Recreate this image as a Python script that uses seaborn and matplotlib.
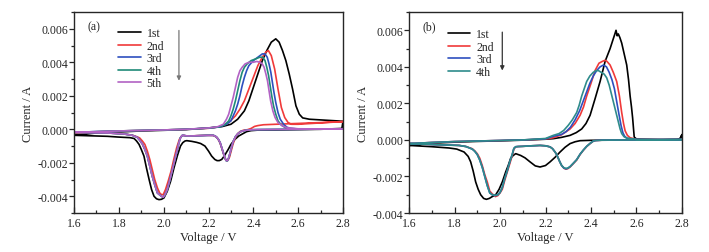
import numpy as np
import pandas as pd
import seaborn as sns
import matplotlib
matplotlib.use("Agg")
import matplotlib.pyplot as plt
from matplotlib.ticker import MultipleLocator, FormatStrFormatter

# ---------------- panel (a): cycles 1-5 ----------------
a1_v = [1.6, 1.7, 1.8, 1.9, 2.0, 2.1, 2.2, 2.26, 2.30, 2.33, 2.36, 2.38, 2.40, 2.42, 2.44, 2.46, 2.48, 2.50,
        2.515, 2.53, 2.545, 2.56, 2.575, 2.59, 2.605, 2.62, 2.65, 2.7, 2.8,
        2.795, 2.7, 2.6, 2.5, 2.42, 2.39, 2.37, 2.355, 2.335, 2.318, 2.30, 2.288, 2.27, 2.259, 2.248, 2.238,
        2.228, 2.214, 2.2, 2.184, 2.165, 2.147, 2.125, 2.103, 2.095, 2.085, 2.075, 2.061, 2.046, 2.031,
        2.016, 2.001, 1.99, 1.979, 1.968, 1.957, 1.946, 1.935, 1.923, 1.912, 1.9, 1.89, 1.879, 1.868,
        1.85, 1.82, 1.793, 1.75, 1.7, 1.6]
a1_i = [-0.00036, -0.00022, -0.00016, -0.0001, -0.00006, -0.00002, 0.00008, 0.00016, 0.0003, 0.0006, 0.0011,
        0.0017, 0.0025, 0.0033, 0.0041, 0.0047, 0.0052, 0.0054, 0.0052, 0.0047, 0.0041, 0.0033, 0.0024,
        0.0014, 0.0009, 0.00068, 0.0006, 0.00056, 0.00048,
        0.00005, 0.0, -0.00002, -0.00004, -0.00005, -0.00008, -0.00014, -0.00025, -0.0004, -0.0006, -0.0009,
        -0.0012, -0.0016, -0.0018, -0.00187, -0.00187, -0.0018, -0.0016, -0.0013, -0.001, -0.00085,
        -0.00078, -0.00072, -0.00068, -0.0007, -0.0008, -0.001, -0.00158, -0.0023, -0.0031, -0.0037,
        -0.0041, -0.00418, -0.0042, -0.00415, -0.004, -0.0036, -0.003, -0.0023, -0.0016, -0.0012, -0.0009,
        -0.0007, -0.00055, -0.0005, -0.00048, -0.00046, -0.00042, -0.0004, -0.00036]

a2_v = [1.6, 1.7, 1.8, 1.9, 2.0, 2.1, 2.2, 2.25, 2.29, 2.32, 2.34, 2.36, 2.38, 2.40, 2.42, 2.44, 2.455, 2.467,
        2.48, 2.495, 2.51, 2.525, 2.54, 2.555, 2.57, 2.6, 2.7, 2.8,
        2.7, 2.6, 2.5, 2.445, 2.42, 2.405, 2.39, 2.375, 2.355, 2.34, 2.328, 2.318, 2.309, 2.301, 2.294,
        2.288, 2.282, 2.276, 2.27, 2.263, 2.256, 2.249, 2.241, 2.232, 2.22, 2.19, 2.15, 2.12, 2.1, 2.09,
        2.08, 2.07, 2.058, 2.045, 2.033, 2.02, 2.008, 1.998, 1.99, 1.982, 1.972, 1.96, 1.949, 1.938, 1.927,
        1.916, 1.905, 1.893, 1.882, 1.86, 1.823, 1.75, 1.6]
a2_i = [-0.0002, -0.00015, -0.0001, -0.00007, -0.00004, 0.0, 0.00006, 0.00015, 0.0004, 0.0008, 0.0012, 0.0017,
        0.0024, 0.0031, 0.0038, 0.0043, 0.0046, 0.0047, 0.0044, 0.0036, 0.0024, 0.0013, 0.0007, 0.0004,
        0.0003, 0.0003, 0.00038, 0.00046,
        0.0004, 0.00035, 0.0003, 0.00027, 0.00022, 0.00017, 0.00005, -0.00002, -0.00006, -0.00014, -0.0003,
        -0.00055, -0.0009, -0.0013, -0.00165, -0.00182, -0.00188, -0.0018, -0.0016, -0.0013, -0.001,
        -0.00075, -0.00055, -0.00044, -0.00037, -0.00036, -0.00038, -0.0004, -0.0004, -0.00036, -0.0004,
        -0.0006, -0.0011, -0.0018, -0.0025, -0.0031, -0.0036, -0.0039, -0.0039, -0.0038, -0.0035, -0.003,
        -0.0024, -0.0018, -0.0013, -0.0009, -0.0007, -0.00052, -0.00045, -0.00035, -0.00028, -0.00022,
        -0.0002]

a3_v = [1.6, 1.7, 1.8, 1.9, 2.0, 2.1, 2.2, 2.25, 2.28, 2.30, 2.31, 2.32, 2.33, 2.34, 2.35, 2.36, 2.37, 2.38,
        2.40, 2.42, 2.44, 2.452, 2.462, 2.47, 2.478, 2.485, 2.492, 2.5, 2.51, 2.52, 2.535, 2.55, 2.57, 2.6,
        2.7, 2.8,
        2.6, 2.5, 2.42, 2.39, 2.365, 2.345, 2.332, 2.321, 2.311, 2.303, 2.296, 2.29, 2.284, 2.278, 2.272,
        2.266, 2.259, 2.252, 2.244, 2.235, 2.222, 2.2, 2.16, 2.12, 2.1, 2.09, 2.083, 2.075, 2.068, 2.061,
        2.05, 2.039, 2.028, 2.016, 2.006, 1.998, 1.99, 1.981, 1.972, 1.96, 1.949, 1.938, 1.927, 1.916,
        1.905, 1.893, 1.882, 1.86, 1.823, 1.75, 1.6]
a3_i = [-0.00018, -0.00014, -0.0001, -0.00007, -0.00004, 0.0, 0.00007, 0.00014, 0.0003, 0.0005, 0.0008,
        0.0011, 0.0015, 0.002, 0.0026, 0.0031, 0.0035, 0.0038, 0.0041, 0.0043, 0.0045, 0.0045, 0.0043,
        0.0039, 0.0034, 0.0028, 0.0022, 0.0016, 0.001, 0.0006, 0.0003, 0.00012, 0.00004, 0.00002, 0.00002,
        0.00002,
        0.0, -0.00001, -0.00002, -0.00003, -0.00006, -0.00013, -0.00025, -0.00042, -0.0007, -0.00105,
        -0.00142, -0.0017, -0.00188, -0.00186, -0.00165, -0.0014, -0.0011, -0.0008, -0.0006, -0.00045,
        -0.00036, -0.00036, -0.00038, -0.0004, -0.00039, -0.00037, -0.00036, -0.0005, -0.0008, -0.0012,
        -0.0018, -0.0024, -0.003, -0.0036, -0.0039, -0.00405, -0.004, -0.0039, -0.0038, -0.0033, -0.0028,
        -0.0022, -0.0016, -0.0012, -0.00088, -0.00065, -0.00048, -0.00036, -0.00028, -0.00022, -0.00018]

a4_v = [1.6, 1.7, 1.8, 1.9, 2.0, 2.1, 2.2, 2.25, 2.275, 2.29, 2.30, 2.31, 2.32, 2.33, 2.34, 2.35, 2.36, 2.372,
        2.39, 2.41, 2.428, 2.442, 2.452, 2.46, 2.468, 2.475, 2.482, 2.49, 2.5, 2.51, 2.525, 2.54, 2.56, 2.6,
        2.7, 2.8,
        2.6, 2.5, 2.42, 2.39, 2.365, 2.345, 2.332, 2.321, 2.311, 2.303, 2.296, 2.29, 2.284, 2.278, 2.272,
        2.266, 2.259, 2.252, 2.244, 2.235, 2.222, 2.2, 2.16, 2.12, 2.1, 2.09, 2.083, 2.075, 2.068, 2.061,
        2.05, 2.039, 2.028, 2.016, 2.006, 1.998, 1.99, 1.981, 1.972, 1.96, 1.949, 1.938, 1.927, 1.916,
        1.905, 1.893, 1.882, 1.86, 1.823, 1.75, 1.6]
a4_i = [-0.00018, -0.00014, -0.0001, -0.00007, -0.00004, 0.0, 0.00007, 0.00015, 0.0003, 0.0005, 0.0008,
        0.0012, 0.0017, 0.0023, 0.0029, 0.0034, 0.0037, 0.0039, 0.0041, 0.0042, 0.0043, 0.0043, 0.0041,
        0.0037, 0.0032, 0.0026, 0.002, 0.0014, 0.0009, 0.0005, 0.00025, 0.00012, 0.00005, 0.00002, 0.00002,
        0.00002,
        0.0, -0.00001, -0.00002, -0.00003, -0.00006, -0.00013, -0.00025, -0.00042, -0.0007, -0.00105,
        -0.00143, -0.00172, -0.00189, -0.00187, -0.00166, -0.0014, -0.0011, -0.0008, -0.0006, -0.00045,
        -0.00036, -0.00036, -0.00038, -0.0004, -0.00039, -0.00037, -0.00036, -0.0005, -0.0008, -0.0012,
        -0.0018, -0.0024, -0.003, -0.0036, -0.0039, -0.00406, -0.004, -0.0039, -0.0038, -0.0033, -0.0028,
        -0.0022, -0.0016, -0.0012, -0.00088, -0.00065, -0.00048, -0.00036, -0.00028, -0.00022, -0.00018]

a5_v = [1.6, 1.7, 1.8, 1.9, 2.0, 2.1, 2.2, 2.24, 2.266, 2.28, 2.29, 2.30, 2.31, 2.32, 2.33, 2.34, 2.35, 2.363,
        2.38, 2.40, 2.415, 2.43, 2.44, 2.448, 2.456, 2.463, 2.47, 2.477, 2.487, 2.497, 2.51, 2.53, 2.55,
        2.6, 2.7, 2.8,
        2.6, 2.5, 2.42, 2.39, 2.365, 2.345, 2.332, 2.321, 2.311, 2.303, 2.296, 2.29, 2.284, 2.278, 2.272,
        2.266, 2.259, 2.252, 2.244, 2.235, 2.222, 2.2, 2.16, 2.12, 2.1, 2.09, 2.083, 2.075, 2.068, 2.061,
        2.05, 2.039, 2.028, 2.016, 2.006, 1.998, 1.99, 1.981, 1.972, 1.96, 1.949, 1.938, 1.927, 1.916,
        1.905, 1.893, 1.882, 1.86, 1.823, 1.75, 1.6]
a5_i = [-0.00018, -0.00014, -0.0001, -0.00007, -0.00004, 0.0, 0.00008, 0.00015, 0.0003, 0.0006, 0.0009,
        0.0014, 0.0019, 0.0025, 0.0031, 0.0035, 0.0037, 0.0039, 0.004, 0.004, 0.00405, 0.004, 0.0039,
        0.0037, 0.0033, 0.0029, 0.0023, 0.0017, 0.0011, 0.0007, 0.0004, 0.0002, 0.0001, 0.00003, 0.00002,
        0.00002,
        0.0, -0.00001, -0.00002, -0.00003, -0.00006, -0.00013, -0.00025, -0.00042, -0.0007, -0.00105,
        -0.00142, -0.0017, -0.00188, -0.00186, -0.00165, -0.0014, -0.0011, -0.0008, -0.0006, -0.00045,
        -0.00036, -0.00036, -0.00038, -0.0004, -0.00039, -0.00037, -0.00036, -0.0005, -0.0008, -0.0012,
        -0.0018, -0.0024, -0.003, -0.0036, -0.0039, -0.00406, -0.004, -0.0039, -0.0038, -0.0033, -0.0028,
        -0.0022, -0.0016, -0.0012, -0.00088, -0.00065, -0.00048, -0.00036, -0.00028, -0.00022, -0.00018]

# ---------------- panel (b): cycles 1-4 ----------------
b1_v = [1.6, 1.7, 1.8, 1.9, 2.0, 2.1, 2.2, 2.234, 2.27, 2.308, 2.335, 2.359, 2.378, 2.396, 2.418, 2.44, 2.462,
        2.484, 2.497, 2.505, 2.51, 2.515, 2.52, 2.527, 2.535, 2.546, 2.557, 2.565, 2.572, 2.578, 2.583,
        2.587, 2.59, 2.6, 2.7, 2.78, 2.795, 2.8,
        2.79, 2.7, 2.5, 2.4, 2.352, 2.33, 2.308, 2.286, 2.264, 2.242, 2.22, 2.2, 2.176, 2.155, 2.132, 2.11,
        2.091, 2.08, 2.069, 2.058, 2.047, 2.036, 2.025, 2.01, 1.996, 1.981, 1.966, 1.953, 1.94, 1.928,
        1.915, 1.904, 1.893, 1.882, 1.871, 1.86, 1.842, 1.81, 1.776, 1.7, 1.6]
b1_i = [-0.0003, -0.00018, -0.00012, -0.00008, -0.00005, -0.00001, 0.00004, 0.00007, 0.00014, 0.00025, 0.0004,
        0.0006, 0.0009, 0.00135, 0.00226, 0.0032, 0.0043, 0.005, 0.0055, 0.0058, 0.006, 0.0057, 0.0058,
        0.0056, 0.0053, 0.0047, 0.0041, 0.0033, 0.0024, 0.0018, 0.0012, 0.0006, 0.00016, 0.00005, 0.00002,
        0.00002, 0.0001, 0.0003,
        0.00003, 0.0, -0.00001, -0.00002, -0.00004, -0.0001, -0.0002, -0.0004, -0.00066, -0.00095, -0.0012,
        -0.0014, -0.00148, -0.00142, -0.0012, -0.00098, -0.00085, -0.0008, -0.00075, -0.00085, -0.001,
        -0.0014, -0.00175, -0.0023, -0.0027, -0.003, -0.0031, -0.0032, -0.00325, -0.0032, -0.003, -0.0027,
        -0.0023, -0.0017, -0.0012, -0.0009, -0.00066, -0.0005, -0.00044, -0.00037, -0.0003]

b2_v = [1.6, 1.7, 1.8, 1.9, 2.0, 2.1, 2.2, 2.234, 2.27, 2.308, 2.33, 2.352, 2.367, 2.381, 2.4, 2.418, 2.435,
        2.45, 2.462, 2.47, 2.484, 2.498, 2.513, 2.525, 2.535, 2.543, 2.55, 2.56, 2.572, 2.6, 2.7, 2.8,
        2.6, 2.45, 2.42, 2.41, 2.396, 2.381, 2.366, 2.352, 2.337, 2.322, 2.308, 2.298, 2.29, 2.281, 2.271,
        2.263, 2.256, 2.249, 2.242, 2.231, 2.22, 2.2, 2.176, 2.14, 2.1, 2.08, 2.069, 2.061, 2.054, 2.043,
        2.032, 2.021, 2.01, 2.0, 1.99, 1.98, 1.966, 1.955, 1.944, 1.933, 1.922, 1.911, 1.9, 1.889, 1.878,
        1.85, 1.82, 1.7, 1.6]
b2_i = [-0.0002, -0.00014, -0.00009, -0.00006, -0.00003, 0.0, 0.00005, 0.00012, 0.00028, 0.0006, 0.0009,
        0.00135, 0.0018, 0.0024, 0.0031, 0.0038, 0.0042, 0.0043, 0.00436, 0.0043, 0.0041, 0.0037, 0.0032,
        0.0024, 0.0015, 0.0009, 0.0005, 0.00025, 0.00012, 0.00003, 0.00002, 0.00002,
        0.0, -0.00001, -0.00003, -0.00007, -0.0002, -0.00036, -0.00057, -0.0008, -0.0011, -0.0013, -0.00148,
        -0.00157, -0.0016, -0.00155, -0.0014, -0.0012, -0.001, -0.0008, -0.00066, -0.00048, -0.00038,
        -0.00032, -0.0003, -0.00032, -0.00035, -0.00036, -0.00038, -0.0005, -0.00084, -0.0013, -0.00175,
        -0.0022, -0.0027, -0.0029, -0.00305, -0.0031, -0.00295, -0.0028, -0.0023, -0.0019, -0.0014, -0.001,
        -0.00075, -0.0006, -0.00048, -0.00036, -0.0003, -0.00025, -0.0002]

b3_v = [1.6, 1.7, 1.8, 1.9, 2.0, 2.1, 2.2, 2.234, 2.27, 2.29, 2.31, 2.33, 2.35, 2.365, 2.38, 2.395, 2.41,
        2.425, 2.44, 2.455, 2.468, 2.48, 2.492, 2.503, 2.513, 2.523, 2.532, 2.54, 2.548, 2.56, 2.6, 2.7, 2.8,
        2.6, 2.45, 2.42, 2.41, 2.396, 2.381, 2.366, 2.352, 2.337, 2.322, 2.308, 2.298, 2.29, 2.281, 2.271,
        2.263, 2.256, 2.249, 2.242, 2.231, 2.22, 2.2, 2.176, 2.14, 2.1, 2.08, 2.069, 2.061, 2.054, 2.043,
        2.032, 2.021, 2.01, 2.0, 1.99, 1.98, 1.966, 1.955, 1.944, 1.933, 1.922, 1.911, 1.9, 1.889, 1.878,
        1.85, 1.82, 1.7, 1.6]
b3_i = [-0.0002, -0.00014, -0.00009, -0.00006, -0.00003, 0.0, 0.00006, 0.0002, 0.0003, 0.00045, 0.0007,
        0.0011, 0.0016, 0.0021, 0.0026, 0.0031, 0.0035, 0.0038, 0.004, 0.0041, 0.004, 0.0037, 0.0033,
        0.0028, 0.0021, 0.0014, 0.0008, 0.0004, 0.0002, 0.00008, 0.00003, 0.00002, 0.00002,
        0.0, -0.00001, -0.00003, -0.00006, -0.00019, -0.00035, -0.00056, -0.00078, -0.00108, -0.00128,
        -0.00146, -0.00155, -0.00158, -0.00154, -0.0014, -0.0012, -0.001, -0.0008, -0.00066, -0.00048,
        -0.00038, -0.00032, -0.0003, -0.00032, -0.00035, -0.00036, -0.00037, -0.00046, -0.00078, -0.0012,
        -0.00168, -0.0021, -0.0026, -0.00288, -0.003, -0.00305, -0.003, -0.0029, -0.0025, -0.002, -0.0015,
        -0.0011, -0.0008, -0.00062, -0.0005, -0.00036, -0.0003, -0.00025, -0.0002]

b4_v = [1.6, 1.7, 1.8, 1.9, 2.0, 2.1, 2.2, 2.234, 2.26, 2.28, 2.30, 2.318, 2.337, 2.348, 2.359, 2.37, 2.381,
        2.395, 2.41, 2.42, 2.432, 2.445, 2.458, 2.469, 2.48, 2.49, 2.498, 2.508, 2.52, 2.528, 2.535, 2.545,
        2.557, 2.6, 2.7, 2.8,
        2.6, 2.45, 2.42, 2.41, 2.396, 2.381, 2.366, 2.352, 2.337, 2.322, 2.308, 2.298, 2.29, 2.281, 2.271,
        2.263, 2.256, 2.249, 2.242, 2.231, 2.22, 2.2, 2.176, 2.14, 2.1, 2.08, 2.069, 2.061, 2.054, 2.043,
        2.032, 2.021, 2.01, 2.0, 1.99, 1.98, 1.966, 1.955, 1.944, 1.933, 1.922, 1.911, 1.9, 1.889, 1.878,
        1.85, 1.82, 1.7, 1.6]
b4_i = [-0.0002, -0.00014, -0.00009, -0.00006, -0.00003, 0.0, 0.00008, 0.00025, 0.00035, 0.00052, 0.0008,
        0.0011, 0.0015, 0.0019, 0.0024, 0.0028, 0.0032, 0.0035, 0.0037, 0.00378, 0.0038, 0.0037, 0.0036,
        0.0034, 0.003, 0.0025, 0.0021, 0.0016, 0.001, 0.0006, 0.00035, 0.00018, 0.0001, 0.00003, 0.00002,
        0.00002,
        0.0, -0.00001, -0.00003, -0.00006, -0.00019, -0.00035, -0.00056, -0.00078, -0.00108, -0.00128,
        -0.00146, -0.00154, -0.00156, -0.00152, -0.0014, -0.0012, -0.001, -0.0008, -0.00066, -0.00048,
        -0.00038, -0.00032, -0.0003, -0.00032, -0.00035, -0.00036, -0.00037, -0.00046, -0.00078, -0.0012,
        -0.00168, -0.0021, -0.0026, -0.00288, -0.003, -0.00303, -0.003, -0.0029, -0.0025, -0.002, -0.0015,
        -0.0011, -0.0008, -0.00062, -0.0005, -0.00036, -0.0003, -0.00025, -0.0002]

labels_a = ["1st", "2nd", "3rd", "4th", "5th"]
labels_b = ["1st", "2nd", "3rd", "4th"]
colors_a = ["#000000", "#f03a3a", "#2d4fbf", "#1f8a78", "#b262c4"]
colors_b = ["#000000", "#f03a3a", "#2d4fbf", "#2e8b8b"]


def long_table(vs, cs, labels):
    parts = []
    for v, c, lab in zip(vs, cs, labels):
        parts.append(pd.DataFrame({"Voltage": v, "Current": c, "cycle": lab}))
    return pd.concat(parts, ignore_index=True)


df_a = long_table([a1_v, a2_v, a3_v, a4_v, a5_v], [a1_i, a2_i, a3_i, a4_i, a5_i], labels_a)
df_b = long_table([b1_v, b2_v, b3_v, b4_v], [b1_i, b2_i, b3_i, b4_i], labels_b)

#%%
sns.set_style("ticks")
plt.rcParams["font.family"] = ["Liberation Serif", "DejaVu Serif"]
plt.rcParams["axes.unicode_minus"] = False
plt.rcParams["font.size"] = 8.5

fig = plt.figure(figsize=(7.09, 2.53), dpi=100)
ax_a = fig.add_axes([0.1044, 0.154, 0.3794, 0.7945])
ax_b = fig.add_axes([0.5769, 0.154, 0.385, 0.7945])

panels = [
    (ax_a, df_a, labels_a, colors_a, (-0.005, 0.007), "(a)", (0.164, 0.925), 2.068, (0.0059, 0.0029), "#777777"),
    (ax_b, df_b, labels_b, colors_b, (-0.004, 0.007), "(b)", (0.142, 0.92), 2.01, (0.0059, 0.0038), "#333333"),
]

for ax, df, labs, cols, ylim, tag, lg_pos, arr_x, arr_y, arr_c in panels:
    sns.lineplot(data=df, x="Voltage", y="Current", hue="cycle", hue_order=labs,
                 palette=cols, sort=False, estimator=None, units="cycle",
                 linewidth=1.2, ax=ax)
    leg = ax.get_legend()
    handles = leg.legend_handles
    texts = [t.get_text() for t in leg.get_texts()]
    ax.legend(handles, texts, loc="upper left", bbox_to_anchor=lg_pos, frameon=False,
              fontsize=8.5, handlelength=1.9, handletextpad=0.5, labelspacing=0.05,
              borderpad=0, borderaxespad=0)

    ax.set_xlim(1.6, 2.8)
    ax.set_ylim(*ylim)
    ax.xaxis.set_major_locator(MultipleLocator(0.2))
    ax.xaxis.set_minor_locator(MultipleLocator(0.1))
    ax.yaxis.set_major_locator(MultipleLocator(0.002))
    ax.yaxis.set_minor_locator(MultipleLocator(0.001))
    ax.xaxis.set_major_formatter(FormatStrFormatter("%.1f"))
    ax.yaxis.set_major_formatter(FormatStrFormatter("%.3f"))
    ax.tick_params(axis="x", which="both", direction="in", labelsize=8.5, pad=3)
    ax.tick_params(axis="x", which="major", length=4, width=0.9)
    ax.tick_params(axis="x", which="minor", length=2.5, width=0.9)
    ax.tick_params(axis="y", which="both", direction="out", labelsize=8.5, pad=0.8)
    ax.tick_params(axis="y", which="major", length=3.5, width=0.9)
    ax.tick_params(axis="y", which="minor", length=2.2, width=0.9)
    for s in ax.spines.values():
        s.set_linewidth(1.0)
        s.set_visible(True)
    ax.set_xlabel("Voltage / V", fontsize=9, labelpad=1)
    ax.set_ylabel("Current / A", fontsize=9, labelpad=2.5)
    ax.text(0.05, 0.93, tag, transform=ax.transAxes, fontsize=8.5, va="center", ha="left")
    ax.annotate("", xy=(arr_x, arr_y[1]), xytext=(arr_x, arr_y[0]),
                arrowprops=dict(arrowstyle="-|>", color=arr_c, lw=0.9, mutation_scale=6,
                                shrinkA=0, shrinkB=0))

plt.savefig("out.png", dpi=100)
